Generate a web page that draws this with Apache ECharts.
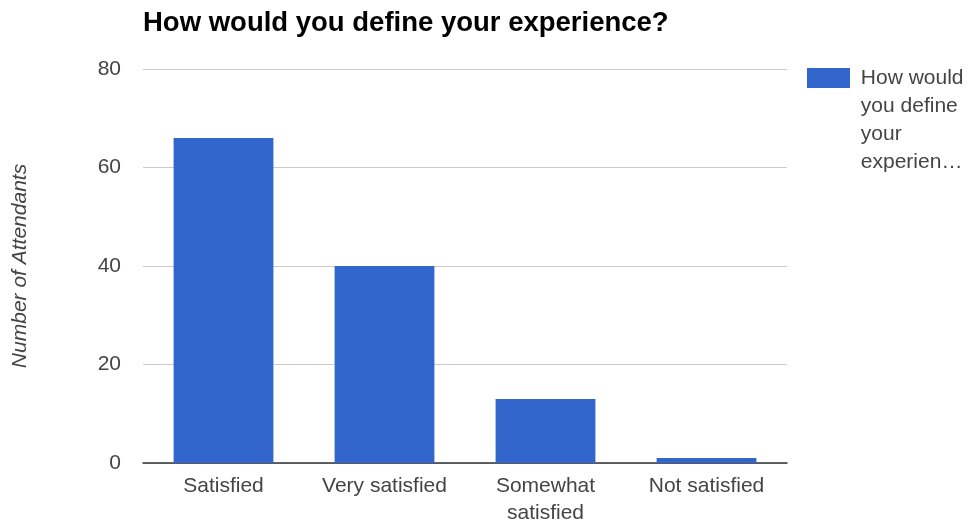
<!DOCTYPE html>
<html>
<head>
<meta charset="utf-8">
<script src="https://cdn.jsdelivr.net/npm/echarts@6/dist/echarts.min.js"></script>
<style>
  html, body { margin: 0; padding: 0; background: #fff; }
  #chart { width: 972px; height: 527px; }
</style>
</head>
<body>
<div id="chart"></div>
<script>
// Survey responses: how attendants rated their experience
const categories = ['Satisfied', 'Very satisfied', 'Somewhat\nsatisfied', 'Not satisfied'];
const attendants = [66, 40, 13, 1];
const yTicks = [0, 20, 40, 60, 80];
const seriesName = 'How would you define your experience?';
const legendLines = ['How would', 'you define', 'your', 'experien\u2026'];

const FONT = 'Arial, "Liberation Sans", sans-serif';
const TEXT = '#444444';
const chart = echarts.init(document.getElementById('chart'));

// The legend label is centred on its swatch; pad with empty lines above so the
// swatch lines up with the first wrapped line instead of the middle of the block.
function legendLabel() {
  const pad = new Array(legendLines.length - 1).fill('');
  return pad.concat(legendLines.map(s => ' ' + s)).join('\n');
}

chart.setOption({
  animation: false,
  backgroundColor: '#ffffff',
  title: {
    text: seriesName,
    left: 138,
    top: 4,
    textStyle: { fontFamily: FONT, fontSize: 27.5, fontWeight: 'bold', color: '#000000' }
  },
  legend: {
    data: [seriesName],
    orient: 'vertical',
    left: 802,
    top: -25,
    itemWidth: 43,
    itemHeight: 20,
    itemGap: 8,
    icon: 'rect',
    formatter: legendLabel,
    textStyle: { fontFamily: FONT, fontSize: 21, color: TEXT, lineHeight: 28 }
  },
  grid: { left: 143, right: 185, top: 69, bottom: 64, outerBoundsMode: 'none' },
  xAxis: {
    type: 'category',
    data: categories,
    axisTick: { show: false },
    axisLine: { lineStyle: { color: '#333333', width: 1.5 } },
    axisLabel: {
      fontFamily: FONT, fontSize: 21, color: TEXT,
      margin: 10, lineHeight: 27, interval: 0
    }
  },
  yAxis: {
    type: 'value',
    min: yTicks[0],
    max: yTicks[yTicks.length - 1],
    interval: yTicks[1] - yTicks[0],
    name: 'Number of Attendants',
    nameLocation: 'middle',
    nameGap: 112,
    nameTextStyle: { fontFamily: FONT, fontSize: 21, fontStyle: 'italic', color: TEXT },
    axisLine: { show: false },
    axisTick: { show: false },
    axisLabel: { fontFamily: FONT, fontSize: 21, color: TEXT, margin: 22 },
    splitLine: { lineStyle: { color: '#cccccc', width: 1 } }
  },
  series: [{
    name: seriesName,
    type: 'bar',
    data: attendants,
    barCategoryGap: '38%',
    itemStyle: { color: '#3366cc' }
  }]
});
</script>
</body>
</html>
